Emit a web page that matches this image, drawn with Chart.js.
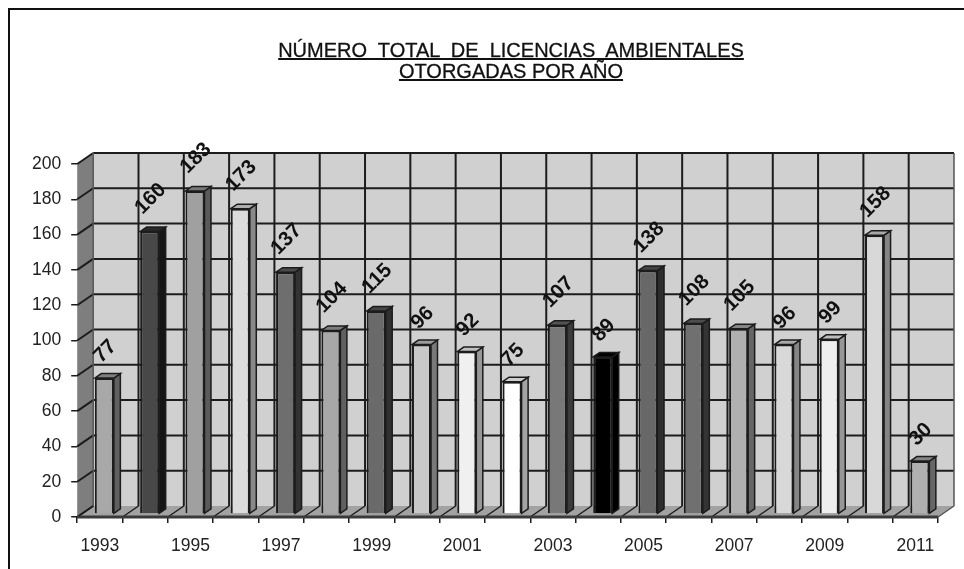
<!DOCTYPE html>
<html>
<head>
<meta charset="utf-8">
<style>
  html, body { margin: 0; padding: 0; background: #fff; overflow: hidden; }
  #marco { position: absolute; left: 8px; top: 8px; width: 956px; height: 561px; border-left: 2px solid #111; border-top: 2px solid #111; box-sizing: border-box; }
  #titulo { position: absolute; left: 0; width: 1022px; top: 40px; text-align: center; font: 20px/21px "Liberation Sans", Arial, sans-serif; color: #111; text-decoration: underline; white-space: pre; filter: blur(0.4px); -webkit-text-stroke: 0.3px #111; }
  canvas { position: absolute; left: 0; top: 0; filter: blur(0.5px); }
</style>
</head>
<body>
<div id="marco"></div>
<div id="titulo">NÚMERO  TOTAL  DE  LICENCIAS  AMBIENTALES
OTORGADAS POR AÑO</div>
<div style="position:absolute;left:0;top:0;width:964px;height:569px"><canvas id="grafico"></canvas></div>
<script src="https://cdn.jsdelivr.net/npm/chart.js@4"></script>
<script>
const anios = ['1993','1994','1995','1996','1997','1998','1999','2000','2001','2002','2003','2004','2005','2006','2007','2008','2009','2010','2011'];
const licencias = [77,160,183,173,137,104,115,96,92,75,107,89,138,108,105,96,99,158,30];
const grises = ['#a8a8a8','#484848','#a0a0a0','#dcdcdc','#6e6e6e','#a8a8a8','#6a6a6a','#c8c8c8','#f0f0f0','#ffffff','#787878','#000000','#686868','#707070','#b0b0b0','#d8d8d8','#eeeeee','#d8d8d8','#b0b0b0'];

const LINEA = '#1c1c1c';
const FONDO_X = 16, FONDO_Y = -11;      // profundidad de la caja 3d
const BARRA_X = 4.5, BARRA_Y = -3;      // donde se apoya la barra en el piso
const LADO_X = 6.5, LADO_Y = -4.5;      // profundidad de la barra

function tono(hex, f, resta){
    const v = parseInt(hex.slice(1, 3), 16);
    const g = Math.max(0, Math.round(v * f - resta));
    return `rgb(${g},${g},${g})`;
}

function poligono(ctx, puntos, relleno, borde, grosor){
    ctx.beginPath();
    puntos.forEach((p, i) => i ? ctx.lineTo(p[0], p[1]) : ctx.moveTo(p[0], p[1]));
    ctx.closePath();
    if (relleno){ ctx.fillStyle = relleno; ctx.fill(); }
    if (borde){ ctx.strokeStyle = borde; ctx.lineWidth = grosor; ctx.stroke(); }
}

function linea(ctx, x1, y1, x2, y2, color, grosor){
    ctx.beginPath();
    ctx.moveTo(x1, y1);
    ctx.lineTo(x2, y2);
    ctx.strokeStyle = color;
    ctx.lineWidth = grosor;
    ctx.stroke();
}

// paredes, piso y rejilla de la caja, todo desde las escalas
const caja3d = {
    id: 'caja3d',
    beforeDatasetsDraw(chart){
        const { ctx, chartArea: a, scales: { x, y } } = chart;
        ctx.save();
        poligono(ctx, [[a.left + FONDO_X, a.top + FONDO_Y], [a.right + FONDO_X, a.top + FONDO_Y], [a.right + FONDO_X, a.bottom + FONDO_Y], [a.left + FONDO_X, a.bottom + FONDO_Y]], '#d0d0d0');
        poligono(ctx, [[a.left, a.top], [a.left + FONDO_X, a.top + FONDO_Y], [a.left + FONDO_X, a.bottom + FONDO_Y], [a.left, a.bottom]], '#7e7e7e');
        poligono(ctx, [[a.left, a.bottom], [a.left + FONDO_X, a.bottom + FONDO_Y], [a.right + FONDO_X, a.bottom + FONDO_Y], [a.right, a.bottom]], '#a2a2a2');
        y.ticks.forEach(t => {
            const py = y.getPixelForValue(t.value);
            linea(ctx, a.left, py, a.left + FONDO_X, py + FONDO_Y, LINEA, 2);
            if (t.value > 0) linea(ctx, a.left + FONDO_X, py + FONDO_Y, a.right + FONDO_X, py + FONDO_Y, LINEA, 2);
        });
        anios.forEach((_, i) => {
            const px = a.left + (a.right - a.left) * i / anios.length;
            linea(ctx, px + FONDO_X, a.top + FONDO_Y, px + FONDO_X, a.bottom + FONDO_Y, i ? LINEA : '#555', i ? 2 : 1.5);
            linea(ctx, px, a.bottom, px + FONDO_X, a.bottom + FONDO_Y, LINEA, 1.5);
        });
        linea(ctx, a.right + FONDO_X, a.top + FONDO_Y, a.right + FONDO_X, a.bottom + FONDO_Y, '#555', 1.5);
        linea(ctx, a.right, a.bottom, a.right + FONDO_X, a.bottom + FONDO_Y, '#555', 1.5);
        linea(ctx, a.left, a.bottom, a.right, a.bottom, '#3a3a3a', 3);
        // las barras se dibujan desplazadas sobre el piso
        ctx.translate(BARRA_X, BARRA_Y);
        chart.getDatasetMeta(0).data.forEach((b, i) => {
            const iz = b.x - b.width / 2, de = b.x + b.width / 2;
            poligono(ctx, [[de, b.y], [de + LADO_X, b.y + LADO_Y], [de + LADO_X, b.base + LADO_Y], [de, b.base]], tono(grises[i], 0.78, 35), LINEA, 1.5);
            poligono(ctx, [[iz, b.y], [iz + LADO_X, b.y + LADO_Y], [de + LADO_X, b.y + LADO_Y], [de, b.y]], tono(grises[i], 0.9, 25), LINEA, 1.5);
        });
    },
    afterDatasetsDraw(chart){
        const { ctx } = chart;
        ctx.restore();
        ctx.save();
        ctx.fillStyle = '#111';
        ctx.font = 'bold 20.5px "Liberation Sans", Arial, sans-serif';
        ctx.textAlign = 'center';
        ctx.textBaseline = 'middle';
        chart.getDatasetMeta(0).data.forEach((b, i) => {
            const texto = String(licencias[i]);
            const ancho = ctx.measureText(texto).width;
            ctx.save();
            ctx.translate(b.x + BARRA_X + 1, b.y + BARRA_Y - (14 + ancho * 0.55));
            ctx.rotate(-Math.PI / 4);
            ctx.fillText(texto, 0, 0);
            ctx.restore();
        });
        ctx.restore();
    }
};

new Chart(document.getElementById('grafico'), {
    type: 'bar',
    data: {
        labels: anios,
        datasets: [{
            data: licencias,
            backgroundColor: grises,
            borderColor: LINEA,
            borderWidth: 2,
            barPercentage: 0.42,
            categoryPercentage: 1
        }]
    },
    plugins: [caja3d],
    options: {
        responsive: true,
        maintainAspectRatio: false,
        animation: false,
        layout: { padding: { top: 164, right: 26, left: 22, bottom: -1 } },
        plugins: { legend: { display: false }, tooltip: { enabled: false } },
        scales: {
            x: {
                grid: { drawOnChartArea: false, offset: true, color: LINEA, tickLength: 6, lineWidth: 1.5 },
                border: { display: false },
                ticks: { color: '#222', font: { family: '"Liberation Sans", Arial, sans-serif', size: 17.5 }, maxRotation: 0, autoSkip: false, padding: 13, callback(v, i){ return i % 2 ? '' : anios[i]; } }
            },
            y: {
                min: 0,
                max: 200,
                grid: { drawOnChartArea: false, color: LINEA, tickLength: 6, lineWidth: 1.5 },
                border: { display: false },
                ticks: { stepSize: 20, color: '#222', font: { family: '"Liberation Sans", Arial, sans-serif', size: 17.5 }, padding: 10 }
            }
        }
    }
});
</script>
</body>
</html>
